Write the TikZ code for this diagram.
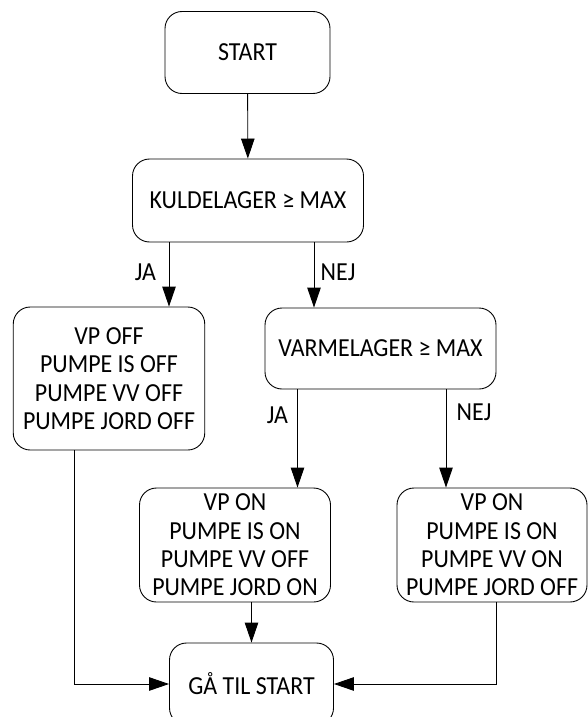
\documentclass[tikz,border=0pt]{standalone}
\usepackage{fontspec}
\setmainfont{Carlito}[FakeStretch=0.92]
\usetikzlibrary{arrows.meta, positioning, calc}

\tikzset{
  box/.style={rectangle, rounded corners=17pt, draw, line width=0.9pt, align=center,
    font=\fontsize{26}{28.4}\selectfont, inner sep=2pt},
  flow/.style={line width=0.9pt, -{Triangle[length=20pt,width=13.5pt]}},
  lbl/.style={font=\fontsize{26}{31}\selectfont}
}

\begin{document}
\begin{tikzpicture}[x=1pt, y=-1pt]
\useasboundingbox (0,0) rectangle (588,717);

% Top
\node[box, minimum width=165pt, minimum height=82pt] (start) at (247.5, 52.5) {START};
\node[box, minimum width=231pt, minimum height=83pt] (kulde) at (248, 200.5) {KULDELAGER ≥ MAX};

% Second level
\node[box, minimum width=191.5pt, minimum height=143pt] (vpoff) at (109, 378.5)
  {VP OFF\\PUMPE IS OFF\\PUMPE VV OFF\\PUMPE JORD OFF};
\node[box, minimum width=231pt, minimum height=81pt] (varme) at (380.5, 348.5) {VARMELAGER ≥ MAX};

% Third level
\node[box, minimum width=191pt, minimum height=114pt] (vpon1) at (235, 545)
  {VP ON\\PUMPE IS ON\\PUMPE VV OFF\\PUMPE JORD ON};
\node[box, minimum width=190pt, minimum height=114pt] (vpon2) at (492, 545)
  {VP ON\\PUMPE IS ON\\PUMPE VV ON\\PUMPE JORD OFF};

% End
\node[box, minimum width=164pt, minimum height=82pt] (gotostart) at (251.5, 684) {GÅ TIL START};

% Labels
\node[lbl] (ja1) at (145.5, 272) {JA};
\node[lbl] (nej1) at (338, 272) {NEJ};
\node[lbl] (ja2) at (277.5, 415) {JA};
\node[lbl] (nej2) at (474, 412) {NEJ};

% Connections
\draw[flow] (start) -- (kulde);
\draw[flow] ([xshift=-79pt]kulde.south) -- ([xshift=-79pt]kulde.south |- vpoff.north);
\draw[flow] ([xshift=66pt]kulde.south) -- ([xshift=66pt]kulde.south |- varme.north);
\draw[flow] ([xshift=-83pt]varme.south) -- ([xshift=-83pt]varme.south |- vpon1.north);
\draw[flow] ([xshift=65.5pt]varme.south) -- ([xshift=65.5pt]varme.south |- vpon2.north);
\draw[flow] (vpon1.south -| gotostart.north) -- (gotostart.north);
\draw[flow] ([xshift=-35pt]vpoff.south) |- (gotostart.west);
\draw[flow] ([xshift=4pt]vpon2.south) |- (gotostart.east);
\end{tikzpicture}
\end{document}
